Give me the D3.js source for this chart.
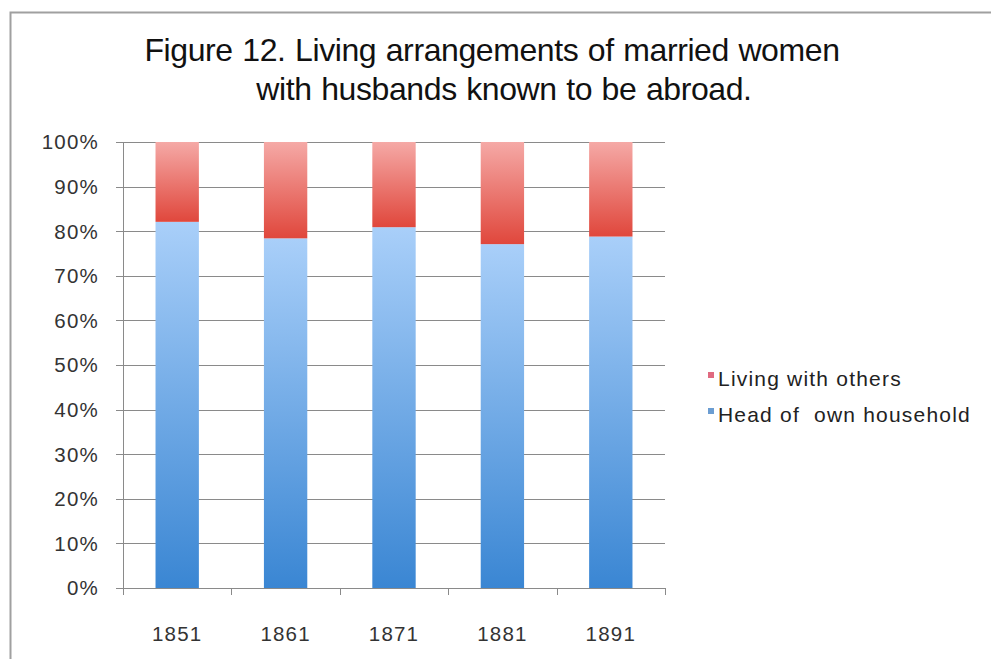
<!DOCTYPE html>
<html>
<head>
<meta charset="utf-8">
<script src="https://cdn.jsdelivr.net/npm/d3@7/dist/d3.min.js"></script>
<style>
  body { margin: 0; background: #fff; }
  svg text { font-family: "Liberation Sans", Arial, Helvetica, sans-serif; fill: #222; }
</style>
</head>
<body>
<svg id="chart" width="991" height="659"></svg>
<script>
// census years and shares (fraction of married women with husbands abroad)
var years = ["1851", "1861", "1871", "1881", "1891"];
var headOfHousehold = [0.821, 0.784, 0.809, 0.771, 0.788];
var livingWithOthers = [0.179, 0.216, 0.191, 0.229, 0.212];
var seriesNames = ["Living with others", "Head of  own household"];
var yTicks = [0, 0.1, 0.2, 0.3, 0.4, 0.5, 0.6, 0.7, 0.8, 0.9, 1];
var titleLines = ["Figure 12. Living arrangements of married women",
                  "with husbands known to be abroad."];

var svg = d3.select("#chart");

// frame around the chart
svg.append("rect")
   .attr("x", 10.5).attr("y", 12.5)
   .attr("width", 995).attr("height", 660)
   .style("fill", "none")
   .style("stroke", "#a0a0a0")
   .style("stroke-width", 2);

// gradients, light at top, darker at bottom
var defs = svg.append("defs");
function addGradient(id, top, bottom) {
  var g = defs.append("linearGradient").attr("id", id)
              .attr("x1", 0).attr("y1", 0).attr("x2", 0).attr("y2", 1);
  g.append("stop").attr("offset", "0%").attr("stop-color", top);
  g.append("stop").attr("offset", "100%").attr("stop-color", bottom);
}
addGradient("gradBlue", "#a9cff9", "#3a86d3");
addGradient("gradRed", "#f5a9a6", "#e0473c");

var margin = {left: 123, right: 665, top: 142, bottom: 588};

var x = d3.scaleBand()
          .domain(years)
          .range([margin.left, margin.right])
          .paddingInner(0.6)
          .paddingOuter(0.3);

var y = d3.scaleLinear().domain([0, 1]).range([margin.bottom, margin.top]);

// horizontal grid
svg.append("g")
   .selectAll("line")
   .data(yTicks)
   .enter()
   .append("line")
   .attr("x1", margin.left - 7)
   .attr("x2", margin.right)
   .attr("y1", function(d) { return Math.round(y(d)) + 0.5; })
   .attr("y2", function(d) { return Math.round(y(d)) + 0.5; })
   .style("stroke", "#8a8a8a")
   .style("stroke-width", 1);

// y axis labels
svg.append("g")
   .selectAll("text")
   .data(yTicks)
   .enter()
   .append("text")
   .attr("x", 99)
   .attr("y", function(d) { return y(d); })
   .attr("dy", "0.36em")
   .attr("text-anchor", "end")
   .style("font-size", "20.5px")
   .style("letter-spacing", "1.2px")
   .style("fill", "#333")
   .text(function(d) { return Math.round(d * 100) + "%"; });

// y axis line
svg.append("line")
   .attr("x1", margin.left + 0.5).attr("x2", margin.left + 0.5)
   .attr("y1", margin.top).attr("y2", margin.bottom)
   .style("stroke", "#8a8a8a");

// stacked bars
var stackData = years.map(function(yr, i) {
  return {year: yr, head: headOfHousehold[i], others: livingWithOthers[i]};
});

svg.append("g").selectAll("rect")
   .data(stackData)
   .enter()
   .append("rect")
   .attr("x", function(d) { return x(d.year); })
   .attr("width", x.bandwidth())
   .attr("y", function(d) { return y(d.head); })
   .attr("height", function(d) { return y(0) - y(d.head); })
   .style("fill", "url(#gradBlue)");

svg.append("g").selectAll("rect")
   .data(stackData)
   .enter()
   .append("rect")
   .attr("x", function(d) { return x(d.year); })
   .attr("width", x.bandwidth())
   .attr("y", function(d) { return y(d.head + d.others); })
   .attr("height", function(d) { return y(d.head) - y(d.head + d.others); })
   .style("fill", "url(#gradRed)");

// x axis line and ticks between categories
var tickPos = d3.range(years.length + 1).map(function(i) { return margin.left + i * (margin.right - margin.left) / years.length; });
svg.append("line")
   .attr("x1", margin.left).attr("x2", margin.right)
   .attr("y1", margin.bottom + 0.5).attr("y2", margin.bottom + 0.5)
   .style("stroke", "#8a8a8a");
svg.append("g").selectAll("line")
   .data(tickPos)
   .enter()
   .append("line")
   .attr("x1", function(d) { return Math.round(d) + 0.5; })
   .attr("x2", function(d) { return Math.round(d) + 0.5; })
   .attr("y1", margin.bottom)
   .attr("y2", margin.bottom + 7)
   .style("stroke", "#8a8a8a");

// x labels
svg.append("g").selectAll("text")
   .data(years)
   .enter()
   .append("text")
   .attr("x", function(d) { return x(d) + x.bandwidth() / 2; })
   .attr("y", 641)
   .attr("text-anchor", "middle")
   .style("font-size", "20.5px")
   .style("letter-spacing", "1.2px")
   .style("fill", "#333")
   .text(function(d) { return d; });

// title (second line sits a little right of the first in the original)
svg.append("g").selectAll("text")
   .data(titleLines)
   .enter()
   .append("text")
   .attr("x", function(d, i) { return i === 0 ? 492 : 504; })
   .attr("y", function(d, i) { return 61 + i * 39; })
   .attr("text-anchor", "middle")
   .style("font-size", "32px")
   .style("letter-spacing", "-0.4px")
   .style("word-spacing", "1px")
   .style("fill", "#111")
   .text(function(d) { return d; });

// legend
var legendColor = ["#e06a80", "#6b9dd2"];
var legend = svg.append("g").selectAll("g")
   .data(seriesNames)
   .enter()
   .append("g")
   .attr("transform", function(d, i) { return "translate(708," + (379 + i * 36) + ")"; });

legend.append("rect")
      .attr("x", 0).attr("y", -7)
      .attr("width", 6).attr("height", 6)
      .style("fill", function(d, i) { return legendColor[i]; });

legend.append("text")
      .attr("x", 10)
      .attr("y", 0)
      .attr("dy", "0.33em")
      .attr("xml:space", "preserve")
      .style("white-space", "pre")
      .style("font-size", "21px")
      .style("letter-spacing", "1.2px")
      .style("fill", "#222")
      .text(function(d) { return d; });
</script>
</body>
</html>
